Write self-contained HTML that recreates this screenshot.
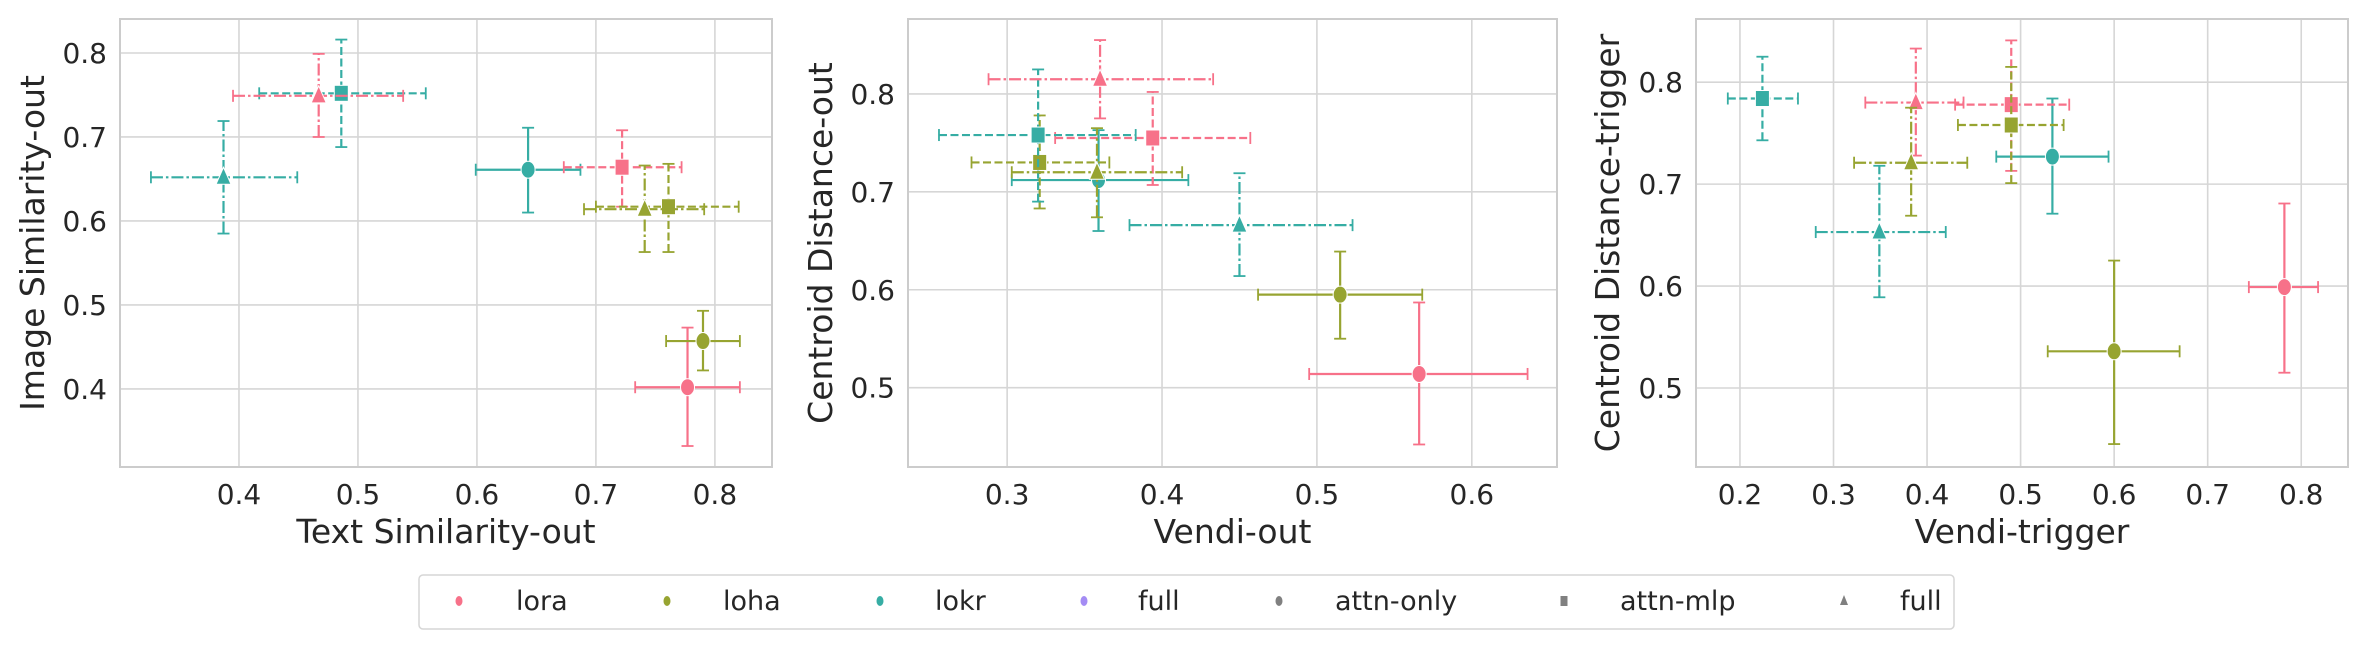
<!DOCTYPE html>
<html><head><meta charset="utf-8">
<style>
html,body{margin:0;padding:0;background:#fff;}
svg{display:block;font-family:"DejaVu Sans","Liberation Sans",sans-serif;}
</style></head>
<body>
<svg id="fig" width="2368" height="648" viewBox="0 0 2368 648" xmlns="http://www.w3.org/2000/svg"></svg>
<script>
// ---- data ----
const adapters = ["lora","loha","lokr"];
const layerSets = ["attn-only","attn-mlp","full"];
// order per panel: lora-circle, loha-circle, lokr-circle, lora-sq, loha-sq, lokr-sq, lora-tri, loha-tri, lokr-tri
const p1X    = [0.777,0.790,0.643, 0.722,0.761,0.486, 0.467,0.741,0.387];
const p1Y    = [0.402,0.457,0.661, 0.664,0.617,0.752, 0.749,0.614,0.652];
const p1XLo  = [0.733,0.759,0.599, 0.673,0.700,0.417, 0.395,0.690,0.326];
const p1XHi  = [0.821,0.821,0.687, 0.772,0.820,0.557, 0.538,0.791,0.449];
const p1YLo  = [0.332,0.422,0.610, 0.617,0.563,0.688, 0.700,0.563,0.585];
const p1YHi  = [0.473,0.493,0.711, 0.708,0.668,0.816, 0.799,0.666,0.719];

const p2X    = [0.566,0.515,0.359, 0.394,0.321,0.320, 0.360,0.358,0.450];
const p2Y    = [0.514,0.595,0.712, 0.755,0.730,0.758, 0.815,0.720,0.666];
const p2XLo  = [0.495,0.462,0.303, 0.331,0.277,0.256, 0.288,0.303,0.379];
const p2XHi  = [0.636,0.568,0.417, 0.457,0.366,0.383, 0.433,0.413,0.523];
const p2YLo  = [0.442,0.550,0.660, 0.707,0.683,0.690, 0.775,0.674,0.614];
const p2YHi  = [0.587,0.639,0.763, 0.802,0.778,0.825, 0.855,0.765,0.719];

const p3X    = [0.782,0.600,0.534, 0.490,0.490,0.224, 0.388,0.383,0.349];
const p3Y    = [0.599,0.536,0.727, 0.778,0.758,0.784, 0.780,0.721,0.653];
const p3XLo  = [0.744,0.529,0.474, 0.430,0.433,0.187, 0.334,0.322,0.281];
const p3XHi  = [0.818,0.670,0.594, 0.552,0.546,0.262, 0.439,0.443,0.420];
const p3YLo  = [0.515,0.445,0.671, 0.713,0.701,0.743, 0.728,0.669,0.589];
const p3YHi  = [0.681,0.625,0.784, 0.841,0.815,0.825, 0.833,0.775,0.718];

const p1XTicks = [0.4,0.5,0.6,0.7,0.8];
const p1YTicks = [0.4,0.5,0.6,0.7,0.8];
const p2XTicks = [0.3,0.4,0.5,0.6];
const p2YTicks = [0.5,0.6,0.7,0.8];
const p3XTicks = [0.2,0.3,0.4,0.5,0.6,0.7,0.8];
const p3YTicks = [0.5,0.6,0.7,0.8];
const legendLabels = ["lora","loha","lokr","full","attn-only","attn-mlp","full"];

const colors = {lora:"#f77189", loha:"#97a431", lokr:"#36ada4", full:"#a48cf4"};
const NS = "http://www.w3.org/2000/svg";
const svg = document.getElementById("fig");
function mk(tag, attrs, parent){
  const e = document.createElementNS(NS, tag);
  for (const k in attrs) e.setAttribute(k, attrs[k]);
  (parent||svg).appendChild(e);
  return e;
}
const panels = [
  {name:"text-image", L:120,R:772,T:19,B:467, xd:[0.300,0.848], yd:[0.307,0.8405],
   X:p1X,Y:p1Y,XLo:p1XLo,XHi:p1XHi,YLo:p1YLo,YHi:p1YHi, xt:p1XTicks, yt:p1YTicks,
   xlabel:"Text Similarity-out", ylabel:"Image Similarity-out", ylx:34},
  {name:"vendi-centroid-out", L:908,R:1557,T:19,B:467, xd:[0.236,0.655], yd:[0.419,0.8765],
   X:p2X,Y:p2Y,XLo:p2XLo,XHi:p2XHi,YLo:p2YLo,YHi:p2YHi, xt:p2XTicks, yt:p2YTicks,
   xlabel:"Vendi-out", ylabel:"Centroid Distance-out", ylx:822},
  {name:"vendi-centroid-trigger", L:1696,R:2348,T:19,B:467, xd:[0.153,0.850], yd:[0.4225,0.862],
   X:p3X,Y:p3Y,XLo:p3XLo,XHi:p3XHi,YLo:p3YLo,YHi:p3YHi, xt:p3XTicks, yt:p3YTicks,
   xlabel:"Vendi-trigger", ylabel:"Centroid Distance-trigger", ylx:1609}
];
const dashes = {"attn-only":"", "attn-mlp":"8,3.5", "full":"12,3,2.5,3"};

panels.forEach((p, pi) => {
  const g = mk("g", {});
  
  
  const sx = v => p.L + (v - p.xd[0]) / (p.xd[1] - p.xd[0]) * (p.R - p.L);
  const sy = v => p.B - (v - p.yd[0]) / (p.yd[1] - p.yd[0]) * (p.B - p.T);
  p.xt.forEach(t => {
    const l = mk("line", {x1:sx(t),x2:sx(t),y1:p.T,y2:p.B,stroke:"#d6d6d6","stroke-width":1.6}, g);
    
    
    const tx = mk("text", {x:sx(t), y:504, "text-anchor":"middle","font-size":28, fill:"#262626"}, g);
    
    
    tx.textContent = t.toFixed(1);
  });
  p.yt.forEach(t => {
    const l = mk("line", {x1:p.L,x2:p.R,y1:sy(t),y2:sy(t),stroke:"#d6d6d6","stroke-width":1.6}, g);
    
    
    const tx = mk("text", {x:p.L-13, y:sy(t)+10, "text-anchor":"end","font-size":28, fill:"#262626"}, g);
    
    
    tx.textContent = t.toFixed(1);
  });
  const fr = mk("rect", {x:p.L,y:p.T,width:p.R-p.L,height:p.B-p.T,fill:"none",stroke:"#cccccc","stroke-width":2}, g);
  
  
  const xl = mk("text", {x:(p.L+p.R)/2, y:543, "text-anchor":"middle","font-size":33, fill:"#262626"}, g);
  
  
  xl.textContent = p.xlabel;
  const yl = mk("text", {x:0, y:0, "text-anchor":"middle","font-size":33, fill:"#262626",
    transform:`translate(${p.ylx+10},${(p.T+p.B)/2}) rotate(-90)`}, g);
  
  
  yl.textContent = p.ylabel;

  for (let i = 0; i < 9; i++) {
    const ad = adapters[i % 3], ls = layerSets[Math.floor(i / 3)];
    const c = colors[ad];
    const s = mk("g", {});
    g.appendChild(s);
    
    
    const x = sx(p.X[i]), y = sy(p.Y[i]);
    const x0 = sx(p.XLo[i]), x1 = sx(p.XHi[i]), y0 = sy(p.YLo[i]), y1 = sy(p.YHi[i]);
    const da = dashes[ls];
    const la = {stroke:c,"stroke-width":2.2,fill:"none"};
    if (da) la["stroke-dasharray"] = da;
    mk("line", Object.assign({x1:x0,x2:x1,y1:y,y2:y}, la), s);
    mk("line", Object.assign({x1:x,x2:x,y1:y0,y2:y1}, la), s);
    const ca = {stroke:c,"stroke-width":1.8};
    mk("line", Object.assign({x1:x0,x2:x0,y1:y-6,y2:y+6}, ca), s);
    mk("line", Object.assign({x1:x1,x2:x1,y1:y-6,y2:y+6}, ca), s);
    mk("line", Object.assign({x1:x-6,x2:x+6,y1:y0,y2:y0}, ca), s);
    mk("line", Object.assign({x1:x-6,x2:x+6,y1:y1,y2:y1}, ca), s);
    const ma = {fill:c, stroke:"#ffffff","stroke-width":1};
    if (ls === "attn-only") mk("ellipse", Object.assign({cx:x,cy:y,rx:7,ry:8.5}, ma), s);
    else if (ls === "attn-mlp") mk("rect", Object.assign({x:x-7,y:y-8,width:14,height:16}, ma), s);
    else mk("polygon", Object.assign({points:`${x},${y-10} ${x+7.5},${y+7} ${x-7.5},${y+7}`}, ma), s);
  }
});

// legend
const lg = mk("g", {});


const lb = mk("rect", {x:419,y:575,width:1535,height:54,rx:4,fill:"#fff",stroke:"#d6d6d6","stroke-width":1.5}, lg);


const legendMarkerX = [459,667,880,1084,1279,1564,1844];
const legendTextX = [516,723,935,1138,1335,1620,1900];
const legendColors = [colors.lora, colors.loha, colors.lokr, colors.full, "#808080","#808080","#808080"];
legendLabels.forEach((lab, i) => {
  const e = mk("g", {}, lg);
  
  
  const mx = legendMarkerX[i], my = 601;
  if (i === 5) mk("rect", {x:mx-3.5,y:my-5,width:7,height:10,fill:legendColors[i]}, e);
  else if (i === 6) mk("polygon", {points:`${mx},${my-6} ${mx+4},${my+4} ${mx-4},${my+4}`, fill:legendColors[i]}, e);
  else mk("ellipse", {cx:mx, cy:my, rx:3.5, ry:5, fill:legendColors[i]}, e);
  const t = mk("text", {x:legendTextX[i], y:my+9, "font-size":27, fill:"#262626"}, e);
  t.textContent = lab;
});
</script>
</body></html>
